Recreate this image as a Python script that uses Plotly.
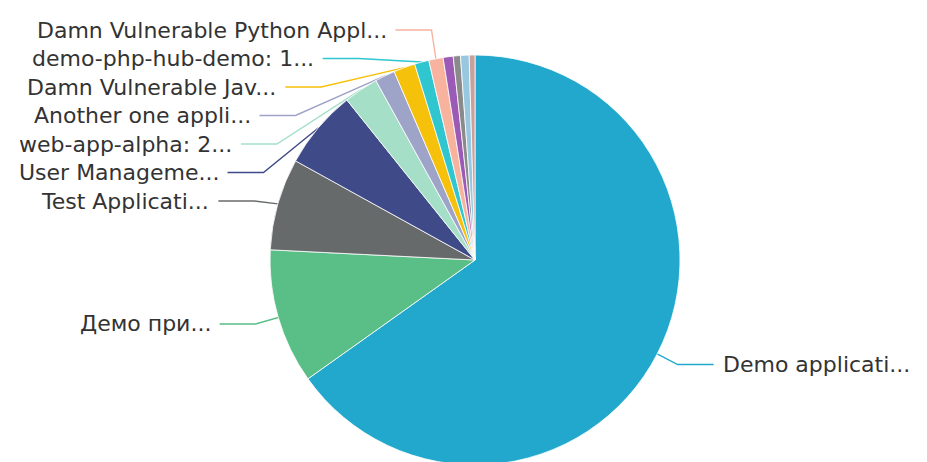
import math
import plotly.graph_objects as go

# ---- data ----
names = [
    "Demo applicati...", "Демо при...", "Test Applicati...", "User Manageme...",
    "web-app-alpha: 2...", "Another one appli...", "Damn Vulnerable Jav...",
    "demo-php-hub-demo: 1...", "Damn Vulnerable Python Appl...",
    "Other 1", "Other 2", "Other 3", "Other 4",
]
values = [576, 94, 64, 55, 24, 14, 15, 10, 10, 7, 5, 6, 4]
show_label = [True] * 9 + [False] * 4
colors = [
    "#21a8cc", "#5abf86", "#676a6b", "#3f4a89", "#a5dfc8", "#9ea3c8",
    "#f5c10a", "#2fc6cf", "#f7b39e", "#9b5ab5", "#8a8a8a", "#98c7e0", "#c9a09c",
]

# ---- geometry / style ----
W, H = 927, 462
OFF = 8  # page body margin
CX, CY, R0 = 475 - OFF, 260 - OFF, 205
L1, L2, GAP = 23, 36, 28.5
TOP_BOUND, BOTTOM_BOUND = 30 - OFF, H - 20
FONT = dict(family="DejaVu Sans, Verdana, sans-serif", size=22, color="#333333")

fig = go.Figure()
fig.add_trace(go.Pie(
    labels=names, values=values, sort=False, direction="clockwise", rotation=0,
    marker=dict(colors=colors, line=dict(color="white", width=0.8)),
    textinfo="none", hoverinfo="label+value+percent",
    domain=dict(x=[(CX - R0) / W, (CX + R0) / W],
                y=[(H - (CY + R0)) / H, (H - (CY - R0)) / H]),
))

# ---- label layout (echarts-like) computed from the data ----
total = float(sum(values))
acc = 0.0
items = []
RA = R0 + L1
for i, v in enumerate(values):
    mid = (acc + v / 2) / total * 2 * math.pi
    acc += v
    if not show_label[i]:
        continue
    s, c = math.sin(mid), math.cos(mid)
    items.append(dict(i=i, s=s, c=c, side=1 if s >= 0 else -1, y=CY - RA * c))

for side in (-1, 1):
    lst = sorted([d for d in items if d["side"] == side], key=lambda d: d["y"])
    if not lst:
        continue
    clusters = []
    last = -1e9
    for d in lst:
        if d["y"] < last + GAP:
            d["shift"] = last + GAP - d["y"]
            d["y"] = last + GAP
            clusters[-1].append(d)
        else:
            d["shift"] = 0.0
            clusters.append([d])
        last = d["y"]
    for cl in clusters:
        bal = sum(d["shift"] for d in cl) / len(cl)
        for d in cl:
            d["y"] -= bal
        if cl[0]["y"] < TOP_BOUND:
            off = TOP_BOUND - cl[0]["y"]
            for d in cl:
                d["y"] += off
        if cl[-1]["y"] > BOTTOM_BOUND:
            off = cl[-1]["y"] - BOTTOM_BOUND
            for d in cl:
                d["y"] -= off
    top = max(lst, key=lambda d: abs(d["y"] - CY))
    dy_t = abs(top["y"] - CY)
    dx_t = abs(RA * top["s"])
    rB = math.sqrt(dy_t ** 2 / (1 - dx_t ** 2 / RA ** 2)) if dx_t < RA else RA
    rB = max(rB, dy_t + 1e-6)
    for d in lst:
        dy = d["y"] - CY
        dx = math.sqrt(max(0.0, 1 - dy * dy / rB / rB)) * RA
        d["ex"] = CX + side * dx
        d["lx"] = d["ex"] + side * L2

annotations = []
for d in items:
    i = d["i"]
    px, py = CX + R0 * d["s"], CY - R0 * d["c"]
    fig.add_trace(go.Scatter(
        x=[px, d["ex"], d["lx"]], y=[py, d["y"], d["y"]], mode="lines",
        line=dict(color=colors[i], width=1.4), hoverinfo="skip",
        showlegend=False, xaxis="x", yaxis="y",
    ))
    annotations.append(dict(
        x=d["lx"] + d["side"] * 7, y=d["y"], xref="x", yref="y",
        text=names[i], showarrow=False,
        xanchor="left" if d["side"] > 0 else "right", yanchor="middle",
        font=FONT,
    ))

fig.update_layout(
    width=W, height=H, margin=dict(l=0, r=0, t=0, b=0),
    paper_bgcolor="white", plot_bgcolor="rgba(0,0,0,0)", showlegend=False,
    xaxis=dict(range=[0, W], visible=False, fixedrange=True, domain=[0, 1]),
    yaxis=dict(range=[H, 0], visible=False, fixedrange=True, domain=[0, 1]),
    annotations=annotations,
)
fig.write_html("out.html")
